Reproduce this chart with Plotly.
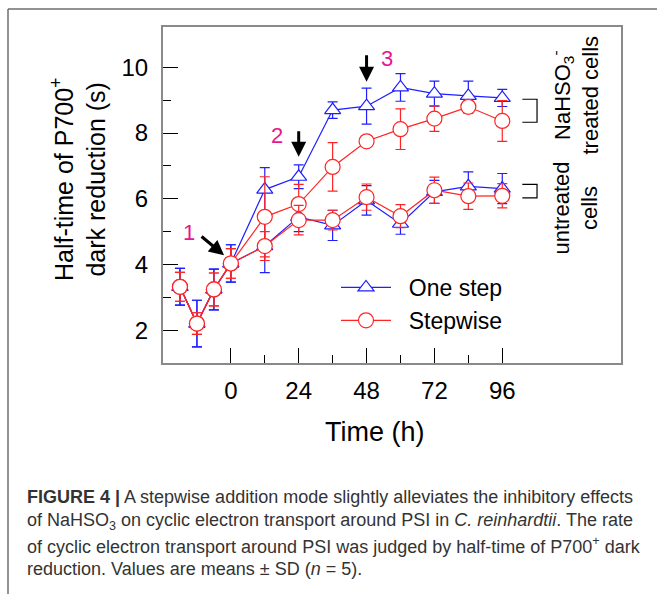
import plotly.graph_objects as go

# ---------------- data ----------------
time_h = [-18, -12, -6, 0, 12, 24, 36, 48, 60, 72, 84, 96]

onestep_treated = [3.32, 2.20, 3.24, 4.03, 6.28, 6.67, 8.70, 8.82, 9.39, 9.20, 9.13, 9.07]
onestep_treated_sd = [0.56, 0.71, 0.62, 0.57, 0.67, 0.36, 0.25, 0.55, 0.42, 0.38, 0.45, 0.26]

onestep_untreated = [3.32, 2.20, 3.24, 4.03, 4.56, 5.45, 5.19, 5.95, 5.24, 6.21, 6.38, 6.31]
onestep_untreated_sd = [0.56, 0.71, 0.62, 0.57, 0.81, 0.45, 0.46, 0.45, 0.32, 0.35, 0.44, 0.46]

stepwise_treated = [3.32, 2.20, 3.24, 4.03, 5.45, 5.84, 6.97, 7.75, 8.12, 8.44, 8.80, 8.37]
stepwise_treated_sd = [0.44, 0.33, 0.50, 0.45, 1.22, 0.60, 0.74, 0.10, 0.62, 0.39, 0.20, 0.62]

stepwise_untreated = [3.32, 2.20, 3.24, 4.03, 4.56, 5.35, 5.35, 6.05, 5.47, 6.26, 6.08, 6.09]
stepwise_untreated_sd = [0.44, 0.33, 0.50, 0.45, 0.44, 0.45, 0.30, 0.40, 0.35, 0.40, 0.40, 0.37]

x_ticks = [0, 24, 48, 72, 96]
x_minor = [12, 36, 60, 84]
y_ticks = [2, 4, 6, 8, 10]
y_minor = [3, 5, 7, 9]

series_names = ["\u00a0\u00a0One step", "\u00a0\u00a0Stepwise"]

caption_lines = [
    "<b>FIGURE 4 |</b> A stepwise addition mode slightly alleviates the inhibitory effects",
    "of NaHSO<sub>3</sub> on cyclic electron transport around PSI in <i>C. reinhardtii</i>. The rate",
    "of cyclic electron transport around PSI was judged by half-time of P700<sup>+</sup> dark",
    "reduction. Values are means ± SD (<i>n</i> = 5).",
]

# ---------------- geometry ----------------
W, H = 657, 594
L, R, T, B = 163, 36, 27, 231
PW, PH = W - L - R, H - T - B


def px(xp):
    return (xp - L) / PW


def py(yp):
    return (H - B - yp) / PH


BLUE = "#1f1fff"
RED = "#ff2424"
MAG = "#e8168f"

fig = go.Figure()


def add_series(y, sd, color, symbol, size, name, show):
    fig.add_trace(go.Scatter(
        x=time_h, y=y, mode="lines+markers", name=name, showlegend=show,
        line=dict(color=color, width=1.2),
        marker=dict(symbol=symbol, size=size, color="white",
                    line=dict(color=color, width=1.2)),
        error_y=dict(type="data", array=sd, visible=True, color=color,
                     thickness=1.2, width=5),
    ))


add_series(onestep_treated, onestep_treated_sd, BLUE, "triangle-up", 14, series_names[0], True)
add_series(onestep_untreated, onestep_untreated_sd, BLUE, "triangle-up", 14, series_names[0], False)
add_series(stepwise_treated, stepwise_treated_sd, RED, "circle", 15, series_names[1], True)
add_series(stepwise_untreated, stepwise_untreated_sd, RED, "circle", 15, series_names[1], False)

axis_common = dict(showline=True, linecolor="#8a8a8a", linewidth=2, mirror=True,
                   ticks="inside", ticklen=15, tickwidth=1.2, tickcolor="black",
                   showgrid=False, zeroline=False,
                   tickfont=dict(family="Arial", size=24, color="black"))

fig.update_layout(
    width=W, height=H,
    margin=dict(l=L, r=R, t=T, b=B),
    paper_bgcolor="white", plot_bgcolor="white",
    font=dict(family="Arial", color="black"),
    xaxis=dict(range=[-24, 138], tickvals=x_ticks, ticklabelstandoff=5,
               minor=dict(tickvals=x_minor, ticks="inside", ticklen=8,
                          tickwidth=1.2, tickcolor="black"),
               **axis_common),
    yaxis=dict(range=[1, 11.23], tickvals=y_ticks, ticklabelstandoff=8,
               minor=dict(tickvals=y_minor, ticks="inside", ticklen=8,
                          tickwidth=1.2, tickcolor="black"),
               **axis_common),
    legend=dict(x=px(336), y=py(266), xanchor="left", yanchor="top",
                bgcolor="rgba(0,0,0,0)", font=dict(size=23, family="Arial"),
                itemwidth=50, tracegroupgap=0),
    showlegend=True,
)

annotations = []


def note(text, xp, yp, size, angle=0, color="black", xanchor="center"):
    annotations.append(dict(text=text, xref="paper", yref="paper",
                            x=px(xp), y=py(yp), xanchor=xanchor, yanchor="middle",
                            textangle=angle, showarrow=False,
                            font=dict(size=size, family="Arial", color=color)))


# axis titles
note("Half-time of P700<sup>+</sup><br>dark reduction (s)", 78, 180, 25, angle=-90)
note("Time (h)", 375, 432, 27)
# arrows + numbers
for tipx, tipy, dx, dy in [(-2.4, 4.28, -24, -20), (24, 7.28, 0, -27), (48, 9.56, 0, -28)]:
    annotations.append(dict(x=tipx, y=tipy, xref="x", yref="y", text="", showarrow=True,
                            ax=dx, ay=dy, arrowhead=2, arrowsize=1, arrowwidth=3,
                            arrowcolor="black"))
for lbl, xx, yy in [("1", -14.8, 4.98), ("2", 16.4, 7.94), ("3", 55.3, 10.28)]:
    annotations.append(dict(x=xx, y=yy, xref="x", yref="y", text=lbl, showarrow=False,
                            xanchor="center", yanchor="middle",
                            font=dict(size=22, family="Arial", color=MAG)))
# right-side labels
note("untreated<br>cells", 575.5, 208, 22, angle=-90)
note("NaHSO<sub>3</sub><sup>-</sup><br>treated cells", 575.5, 95, 22, angle=-90)
# caption
for i, line in enumerate(caption_lines):
    note(line, 25, 497 + 24 * i, 18, color="#333333", xanchor="left")
fig.update_layout(annotations=annotations)

shapes = []
# brackets
for top, bot in [(9.03, 8.33), (6.44, 6.03)]:
    shapes.append(dict(type="path", xref="x", yref="y",
                       path=f"M 103.1 {top} L 108.3 {top} L 108.3 {bot} L 103.1 {bot}",
                       line=dict(color="black", width=1.2)))
# outer frame
shapes.append(dict(type="line", xref="paper", yref="paper",
                   x0=px(8), y0=py(9), x1=px(W + 5), y1=py(9),
                   line=dict(color="#6e6e6e", width=1.5)))
shapes.append(dict(type="line", xref="paper", yref="paper",
                   x0=px(8), y0=py(9), x1=px(8), y1=py(H + 5),
                   line=dict(color="#6e6e6e", width=1.5)))
fig.update_layout(shapes=shapes)

fig.write_html("out.html")
